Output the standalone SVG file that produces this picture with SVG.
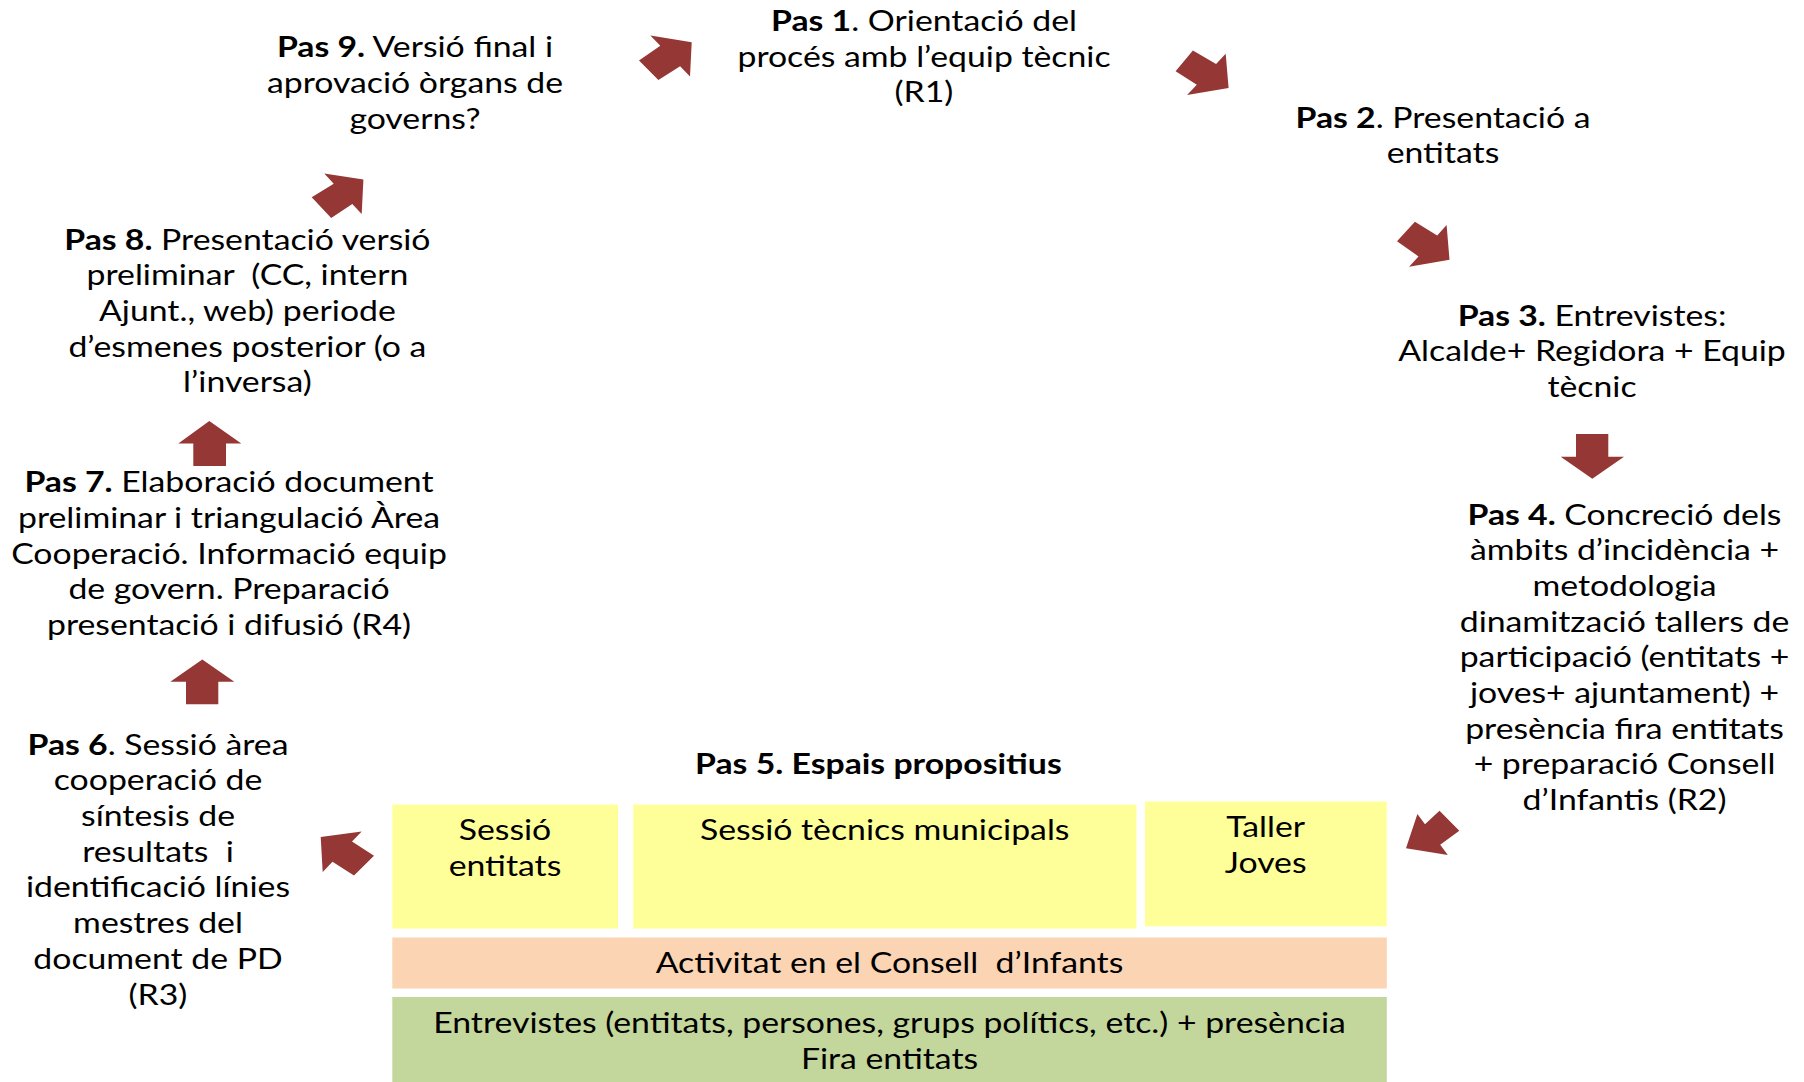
<svg xmlns="http://www.w3.org/2000/svg" width="1804" height="1082" viewBox="0 0 1804 1082">
<style>
text{font-family:Lato,"Open Sans","Liberation Sans",sans-serif;font-size:29px;fill:#000;text-anchor:middle;white-space:pre}
.b{font-weight:bold}
.arr{fill:#953735;stroke:none}
.y{fill:#FFFF99}
.p{fill:#FBD4B4}
.g{fill:#C3D69B}
</style>
<rect width="1804" height="1082" fill="#fff"/>
<g id="connectors">
<polygon class="arr" points="639,60.4 660.3,45.8 650.4,35.6 691.7,42.3 690,76.5 680.1,66.3 658.4,79.9"/>
<polygon class="arr" points="1192.9,50.4 1216.1,64.1 1225.7,53.8 1228.6,88 1187.1,95.1 1196.8,84.8 1175.6,71.2"/>
<polygon class="arr" points="1414.9,221.8 1437.2,235.5 1446.6,225.1 1449.5,259.7 1409.1,266.8 1418.5,256.4 1397,241.3"/>
<polygon class="arr" points="1576,434 1608.3,434 1608.3,456.7 1624,456.7 1592.3,478.7 1560.7,456.7 1576,456.7"/>
<polygon class="arr" points="1439.5,810.7 1425,824.3 1417.4,814 1406,848.3 1447.8,855 1440.2,844.8 1459.3,830.7"/>
<polygon class="arr" points="374,855.8 352,841.6 361.7,831.5 320.7,837.1 322.7,871.9 332.5,861.8 354,875.4"/>
<polygon class="arr" points="186,704.3 186,681.7 170.3,681.7 202.3,659.6 234.3,681.7 218.3,681.7 218.3,704.3"/>
<polygon class="arr" points="193.3,466 193.3,443.5 178.3,443.5 209.3,420.9 241.3,443.5 226,443.5 226,466"/>
<polygon class="arr" points="311.7,197.3 333.7,183.7 324.3,173.5 363.4,179.5 361.7,214.1 352.3,203.9 331.2,218.1"/>
</g>
<g id="pas9" transform="translate(415 0) scale(1.165 1)">
<text x="0" y="57.5"><tspan class="b">Pas 9.</tspan> Versió final i</text>
<text x="0" y="93.2">aprovació òrgans de</text>
<text x="0" y="128.9">governs?</text>
</g>
<g id="pas1" transform="translate(924 0) scale(1.165 1)">
<text x="0" y="31.1"><tspan class="b">Pas 1</tspan>. Orientació del</text>
<text x="0" y="66.8">procés amb l’equip tècnic</text>
<text x="0" y="102.5">(R1)</text>
</g>
<g id="pas2" transform="translate(1443 0) scale(1.165 1)">
<text x="0" y="127.7"><tspan class="b">Pas 2</tspan>. Presentació a</text>
<text x="0" y="163.4">entitats</text>
</g>
<g id="pas3" transform="translate(1592 0) scale(1.165 1)">
<text x="0" y="325.6"><tspan class="b">Pas 3.</tspan> Entrevistes:</text>
<text x="0" y="361.3">Alcalde+ Regidora + Equip</text>
<text x="0" y="397">tècnic</text>
</g>
<g id="pas4" transform="translate(1624.5 0) scale(1.165 1)">
<text x="0" y="524.6"><tspan class="b">Pas 4.</tspan> Concreció dels</text>
<text x="0" y="560.3">àmbits d’incidència +</text>
<text x="0" y="596">metodologia</text>
<text x="0" y="631.7">dinamització tallers de</text>
<text x="0" y="667.4">participació (entitats +</text>
<text x="0" y="703.1">joves+ ajuntament) +</text>
<text x="0" y="738.8">presència fira entitats</text>
<text x="0" y="774.5">+ preparació Consell</text>
<text x="0" y="810.2">d’Infantis (R2)</text>
</g>
<g id="pas5">
<g transform="translate(878.4 0) scale(1.165 1)"><text x="0" y="774.5" class="b">Pas 5. Espais propositius</text></g>
<g id="sessio-entitats">
<rect class="y" x="392.3" y="804.6" width="225.8" height="124"/>
<g transform="translate(505 0) scale(1.165 1)"><text x="0" y="840.5">Sessió</text><text x="0" y="876.5">entitats</text></g>
</g>
<g id="sessio-tecnics">
<rect class="y" x="633.2" y="804.6" width="503.2" height="124"/>
<g transform="translate(884.7 0) scale(1.165 1)"><text x="0" y="840.5">Sessió tècnics municipals</text></g>
</g>
<g id="taller-joves">
<rect class="y" x="1145" y="801.5" width="241.8" height="124.8"/>
<g transform="translate(1265.7 0) scale(1.165 1)"><text x="0" y="837.4">Taller</text><text x="0" y="873.4">Joves</text></g>
</g>
<g id="consell-infants">
<rect class="p" x="392.3" y="937.5" width="994.5" height="51"/>
<g transform="translate(889.5 0) scale(1.165 1)"><text x="0" y="973.3">Activitat en el Consell  d’Infants</text></g>
</g>
<g id="entrevistes">
<rect class="g" x="392.3" y="997" width="994.5" height="85"/>
<g transform="translate(889.5 0) scale(1.165 1)"><text x="0" y="1033">Entrevistes (entitats, persones, grups polítics, etc.) + presència</text><text x="0" y="1069">Fira entitats</text></g>
</g>
</g>
<g id="pas6" transform="translate(158 0) scale(1.165 1)">
<text x="0" y="754.7"><tspan class="b">Pas 6</tspan>. Sessió àrea</text>
<text x="0" y="790.4">cooperació de</text>
<text x="0" y="826.1">síntesis de</text>
<text x="0" y="861.8">resultats  i</text>
<text x="0" y="897.5">identificació línies</text>
<text x="0" y="933.2">mestres del</text>
<text x="0" y="968.9">document de PD</text>
<text x="0" y="1004.6">(R3)</text>
</g>
<g id="pas7" transform="translate(229 0) scale(1.165 1)">
<text x="0" y="492.4"><tspan class="b">Pas 7.</tspan> Elaboració document</text>
<text x="0" y="528.1">preliminar i triangulació Àrea</text>
<text x="0" y="563.8">Cooperació. Informació equip</text>
<text x="0" y="599.5">de govern. Preparació</text>
<text x="0" y="635.2">presentació i difusió (R4)</text>
</g>
<g id="pas8" transform="translate(247.4 0) scale(1.165 1)">
<text x="0" y="249.7"><tspan class="b">Pas 8.</tspan> Presentació versió</text>
<text x="0" y="285.4">preliminar  (CC, intern</text>
<text x="0" y="321.1">Ajunt., web) periode</text>
<text x="0" y="356.8">d’esmenes posterior (o a</text>
<text x="0" y="392.5">l’inversa)</text>
</g>
</svg>
